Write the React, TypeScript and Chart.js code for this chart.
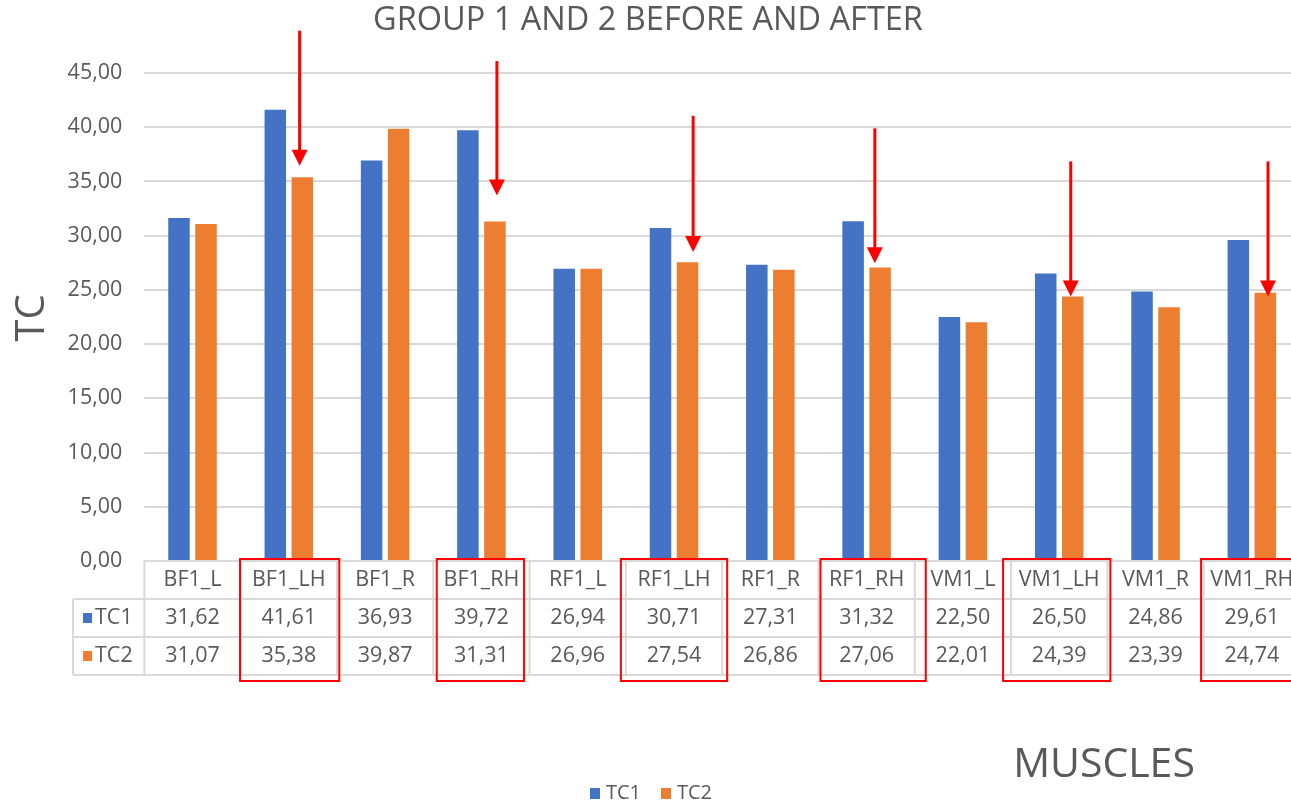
import React, { useEffect, useRef } from "react";
import { Chart, registerables } from "chart.js";

Chart.register(...registerables);

// ---- data ----
const muscles = [
  "BF1_L", "BF1_LH", "BF1_R", "BF1_RH",
  "RF1_L", "RF1_LH", "RF1_R", "RF1_RH",
  "VM1_L", "VM1_LH", "VM1_R", "VM1_RH",
];
const tc1 = [31.62, 41.61, 36.93, 39.72, 26.94, 30.71, 27.31, 31.32, 22.5, 26.5, 24.86, 29.61];
const tc2 = [31.07, 35.38, 39.87, 31.31, 26.96, 27.54, 26.86, 27.06, 22.01, 24.39, 23.39, 24.74];
const seriesNames = ["TC1", "TC2"];

const yMin = 0;
const yMax = 45;
const yStep = 5;

// muscles whose TC drops after treatment: framed in the table, arrow on TC2 bar
const highlighted = ["BF1_LH", "BF1_RH", "RF1_LH", "RF1_RH", "VM1_LH", "VM1_RH"];
// arrow start / tip, in TC units
const arrowFrom = [48.9, 46.1, 41.05, 39.9, 36.85, 36.85];
const arrowTo = [36.45, 33.7, 28.5, 27.45, 24.4, 24.4];

// ---- styling ----
const BLUE = "#4472C4";
const ORANGE = "#ED7D31";
const TEXT = "#595959";
const GRID = "#D9D9D9";
const RED = "#FF0000";
const FONT = "'Open Sans', 'Noto Sans', sans-serif";
const LABEL_SIZE = 21.5;

// hand-placed nudges (px) for the red frames and arrows
const frameNudge = [[-0.6, 2.3], [3.5, -5.5], [-5, 5], [2, 11], [-8, 3], [-2.6, 10]];
const arrowNudge = [-2.7, 2, 5.6, -5.3, -2, 2.7];

const fmt = (v: number) => v.toFixed(2).replace(".", ",");

const ROW_H = 38;
const KEY_LEFT = 73;

const decorations = {
  id: "decorations",
  afterDraw(chart: any) {
    const { ctx, chartArea } = chart;
    const x = chart.scales.x;
    const n = muscles.length;
    const catW = (chartArea.right - chartArea.left) / n;
    const top = chartArea.bottom;
    const bottom = top + ROW_H * 3;

    ctx.save();

    // ---- data table ----
    ctx.strokeStyle = GRID;
    ctx.lineWidth = 2;
    ctx.beginPath();
    ctx.moveTo(chartArea.left, top);
    ctx.lineTo(chartArea.right, top);
    for (let r = 1; r <= 3; r++) {
      ctx.moveTo(KEY_LEFT, top + r * ROW_H);
      ctx.lineTo(chartArea.right, top + r * ROW_H);
    }
    ctx.moveTo(KEY_LEFT, top + ROW_H);
    ctx.lineTo(KEY_LEFT, bottom);
    for (let i = 0; i <= n; i++) {
      const cx = chartArea.left + i * catW;
      ctx.moveTo(cx, top);
      ctx.lineTo(cx, bottom);
    }
    ctx.stroke();

    ctx.fillStyle = TEXT;
    ctx.font = `${LABEL_SIZE}px ${FONT}`;
    ctx.textAlign = "center";
    ctx.textBaseline = "middle";
    muscles.forEach((m, i) => {
      const cx = x.getPixelForValue(i);
      ctx.fillText(m, cx, top + ROW_H * 0.5);
      ctx.fillText(fmt(tc1[i]), cx, top + ROW_H * 1.5);
      ctx.fillText(fmt(tc2[i]), cx, top + ROW_H * 2.5);
    });

    // row keys
    [BLUE, ORANGE].forEach((c, r) => {
      const cy = top + ROW_H * (1.5 + r);
      ctx.fillStyle = c;
      ctx.fillRect(KEY_LEFT + 10, cy - 5, 9, 10);
      ctx.fillStyle = TEXT;
      ctx.textAlign = "left";
      ctx.fillText(seriesNames[r], KEY_LEFT + 22, cy);
    });

    // ---- red frames around highlighted columns ----
    ctx.strokeStyle = RED;
    ctx.lineWidth = 2;
    highlighted.forEach((m, k) => {
      const i = muscles.indexOf(m);
      const l = chartArea.left + i * catW + frameNudge[k][0];
      const r = chartArea.left + (i + 1) * catW + frameNudge[k][1];
      ctx.strokeRect(l, top - 2, r - l, bottom - top + 8);
    });

    // ---- arrows onto TC2 bars ----
    const meta = chart.getDatasetMeta(1);
    const y = chart.scales.y;
    ctx.fillStyle = RED;
    highlighted.forEach((m, k) => {
      const i = muscles.indexOf(m);
      const ax = meta.data[i].x + arrowNudge[k];
      const y0 = y.getPixelForValue(arrowFrom[k]);
      const y1 = y.getPixelForValue(arrowTo[k]);
      const head = 16;
      ctx.lineWidth = 3;
      ctx.beginPath();
      ctx.moveTo(ax, y0);
      ctx.lineTo(ax, y1 - head + 2);
      ctx.stroke();
      ctx.beginPath();
      ctx.moveTo(ax - 8, y1 - head);
      ctx.lineTo(ax + 8, y1 - head);
      ctx.lineTo(ax, y1);
      ctx.closePath();
      ctx.fill();
    });

    // ---- titles ----
    ctx.fillStyle = TEXT;
    ctx.textAlign = "center";
    ctx.textBaseline = "middle";
    ctx.font = `32.5px ${FONT}`;
    ctx.fillText("GROUP 1 AND 2 BEFORE AND AFTER", 648, 21);

    ctx.font = `40px ${FONT}`;
    ctx.save();
    ctx.translate(33, 318);
    ctx.rotate(-Math.PI / 2);
    ctx.fillText("TC", 0, 0);
    ctx.restore();

    ctx.font = `41px ${FONT}`;
    ctx.fillText("MUSCLES", 1104, 765);

    // ---- legend ----
    ctx.font = `20px ${FONT}`;
    ctx.textAlign = "left";
    const ly = 793;
    const legendX = [590, 661];
    [BLUE, ORANGE].forEach((c, r) => {
      ctx.fillStyle = c;
      ctx.fillRect(legendX[r], ly - 5, 10, 11);
      ctx.fillStyle = TEXT;
      ctx.fillText(seriesNames[r], legendX[r] + 16, ly);
    });

    ctx.restore();
  },
};

export default function App() {
  const ref = useRef<HTMLCanvasElement>(null);

  useEffect(() => {
    if (!ref.current) return;
    const chart = new Chart(ref.current, {
      type: "bar",
      data: {
        labels: muscles,
        datasets: [
          { label: seriesNames[0], data: tc1, backgroundColor: BLUE },
          { label: seriesNames[1], data: tc2, backgroundColor: ORANGE },
        ],
      },
      options: {
        responsive: false,
        animation: false,
        devicePixelRatio: 1,
        layout: { padding: { left: 0, right: 10, top: 73, bottom: 242 } },
        datasets: {
          bar: { categoryPercentage: 0.561, barPercentage: 0.796 },
        },
        scales: {
          x: { display: false },
          y: {
            min: yMin,
            max: yMax,
            afterFit: (s: any) => { s.width = 144.35; },
            border: { display: false },
            grid: { color: GRID, lineWidth: 2, drawTicks: false },
            ticks: {
              stepSize: yStep,
              padding: 22,
              color: TEXT,
              font: { family: FONT, size: LABEL_SIZE },
              callback: (v: any) => fmt(Number(v)),
            },
          },
        },
        plugins: {
          legend: { display: false },
          title: { display: false },
          tooltip: { enabled: false },
        },
      },
      plugins: [decorations],
    });
    return () => chart.destroy();
  }, []);

  return (
    <div style={{ position: "fixed", left: 0, top: 0, width: 1291, height: 803, overflow: "hidden", background: "#fff" }}>
      <canvas ref={ref} width={1310} height={803} style={{ display: "block" }} />
    </div>
  );
}
